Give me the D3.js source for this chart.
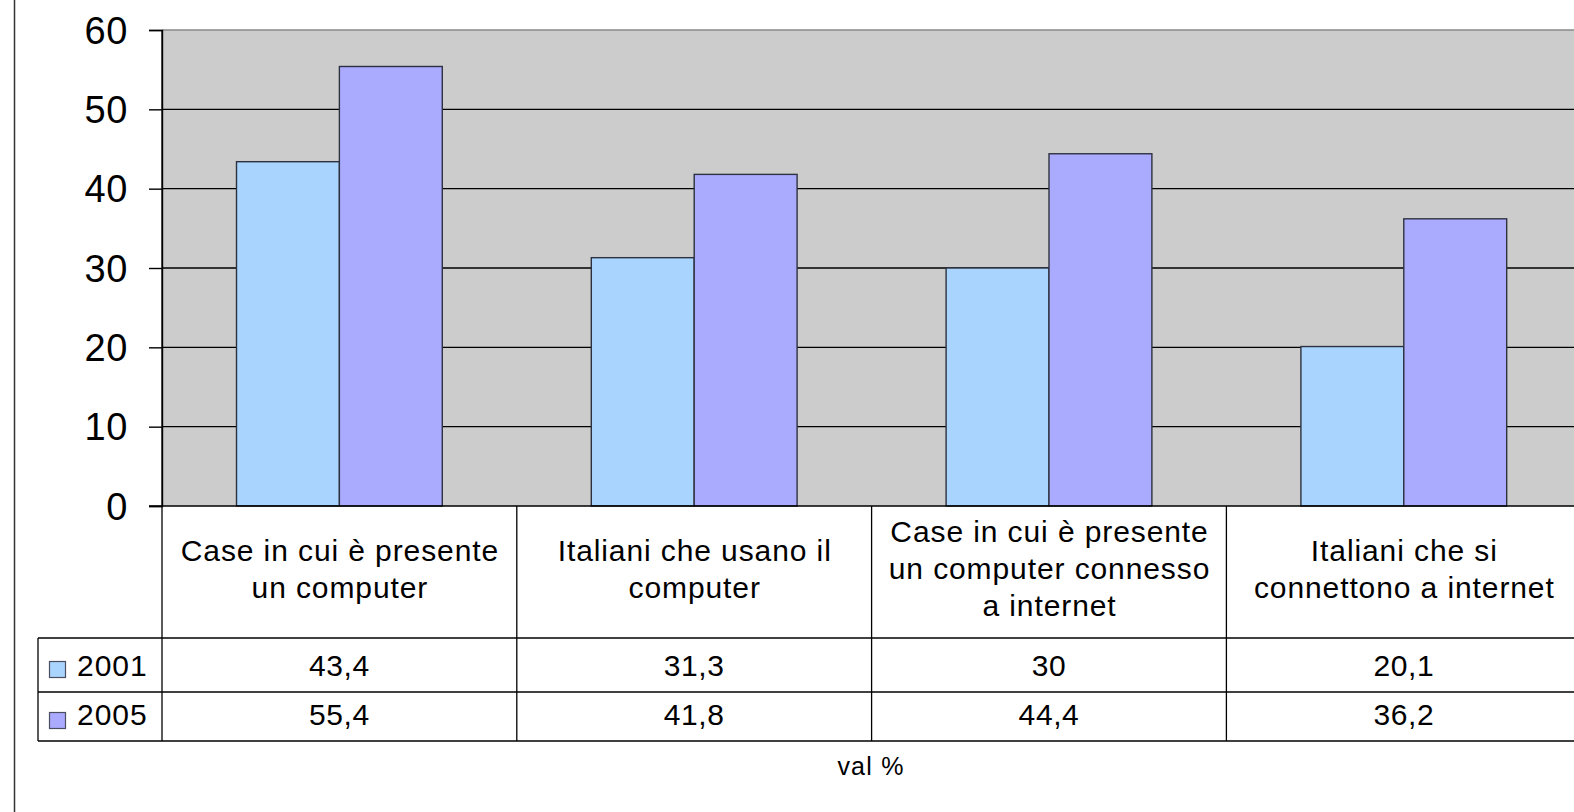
<!DOCTYPE html>
<html>
<head>
<meta charset="utf-8">
<script src="https://cdn.jsdelivr.net/npm/d3@7"></script>
<style>
  html, body { margin: 0; padding: 0; background: #ffffff; }
  svg { display: block; font-family: "Liberation Sans", Arial, sans-serif; }
</style>
</head>
<body>
<svg id="chart" width="1574" height="812"></svg>
<script>
// Category labels (line breaks as drawn in the table header)
const categories = [
  "Case in cui è presente\nun computer",
  "Italiani che usano il\ncomputer",
  "Case in cui è presente\nun computer connesso\na internet",
  "Italiani che si\nconnettono a internet"
];
const seriesNames = ["2001", "2005"];
const values2001 = [43.4, 31.3, 30, 20.1];
const values2005 = [55.4, 41.8, 44.4, 36.2];
const yTicks = [0, 10, 20, 30, 40, 50, 60];
const axisTitle = "val %";

const seriesValues = [values2001, values2005];
const colors = ["#a8d4fe", "#aaaaff"];
const fmt = v => String(v).replace(".", ",");

const svg = d3.select("#chart");

// Layout
const plotLeft = 162, plotTop = 30, plotBottom = 506;
const step = 354.8;
const rowCatBottom = 638, row1Bottom = 692, row2Bottom = 741;
const tableLeft = 38;

const x0 = d3.scaleBand()
  .domain(categories)
  .range([plotLeft, plotLeft + step * categories.length])
  .paddingInner(0).paddingOuter(0);
const x1 = d3.scaleBand()
  .domain(seriesNames)
  .range([step * 0.21, step * 0.79]);
const y = d3.scaleLinear().domain([0, 60]).range([plotBottom, plotTop]);

// Outer chart frame (left edge)
svg.append("line")
  .attr("x1", 14.5).attr("x2", 14.5).attr("y1", 0).attr("y2", 812)
  .attr("stroke", "#333").attr("stroke-width", 1.5);

// Plot background
svg.append("rect")
  .attr("x", plotLeft).attr("y", plotTop)
  .attr("width", 1574 - plotLeft).attr("height", plotBottom - plotTop)
  .attr("fill", "#cccccc");

// Grid lines
svg.append("g")
  .selectAll("line")
  .data(yTicks.filter(t => t > 0 && t < 60))
  .join("line")
  .attr("x1", plotLeft).attr("x2", 1574)
  .attr("y1", d => y(d)).attr("y2", d => y(d))
  .attr("stroke", "#000").attr("stroke-width", 1.4);

svg.append("line")
  .attr("x1", plotLeft).attr("x2", 1574)
  .attr("y1", y(60)).attr("y2", y(60))
  .attr("stroke", "#888").attr("stroke-width", 1.6);

// Bars
const groups = svg.append("g")
  .selectAll("g")
  .data(categories)
  .join("g")
  .attr("transform", d => `translate(${x0(d)},0)`);

groups.selectAll("rect")
  .data((d, i) => seriesNames.map((s, k) => ({ s, k, v: seriesValues[k][i] })))
  .join("rect")
  .attr("x", d => x1(d.s))
  .attr("y", d => y(d.v))
  .attr("width", x1.bandwidth())
  .attr("height", d => y(0) - y(d.v))
  .attr("fill", d => colors[d.k])
  .attr("stroke", "#2e3240")
  .attr("stroke-width", 1.4);

// Y axis
const yAxis = svg.append("g")
  .attr("transform", `translate(${plotLeft},0)`)
  .call(d3.axisLeft(y).tickValues(yTicks).tickSize(13).tickPadding(21).tickFormat(d3.format("d")));
yAxis.select(".domain").attr("stroke", "#000").attr("stroke-width", 1.4);
yAxis.selectAll(".tick line").attr("stroke", "#000").attr("stroke-width", 1.4);
yAxis.selectAll(".tick text")
  .attr("fill", "#000")
  .attr("font-size", 38)
  .attr("letter-spacing", 0.6)
  .attr("font-family", "Liberation Sans, Arial, sans-serif")
  .attr("dy", 13);

// Data table lines
const tbl = svg.append("g").attr("stroke", "#000").attr("stroke-width", 1.3);
tbl.append("line").attr("x1", 149).attr("x2", 1574).attr("y1", plotBottom).attr("y2", plotBottom);
[rowCatBottom, row1Bottom, row2Bottom].forEach(yy => {
  tbl.append("line").attr("x1", tableLeft).attr("x2", 1574).attr("y1", yy).attr("y2", yy);
});
tbl.append("line").attr("x1", tableLeft).attr("x2", tableLeft).attr("y1", rowCatBottom).attr("y2", row2Bottom);
tbl.append("line").attr("x1", plotLeft).attr("x2", plotLeft).attr("y1", plotTop).attr("y2", row2Bottom);
tbl.selectAll("line.div")
  .data(categories.slice(1))
  .join("line")
  .attr("class", "div")
  .attr("x1", d => x0(d)).attr("x2", d => x0(d))
  .attr("y1", plotBottom).attr("y2", row2Bottom);

// Category header text
const textStyle = (sel, spacing) => sel
  .attr("font-size", 30)
  .attr("letter-spacing", spacing)
  .attr("fill", "#000")
  .attr("text-anchor", "middle");

const catText = svg.append("g")
  .selectAll("text")
  .data(categories)
  .join("text")
  .call(textStyle, 0.9)
  .attr("x", d => x0(d) + step / 2);
catText.each(function (d) {
  const lines = d.split("\n");
  const n = lines.length;
  d3.select(this).selectAll("tspan")
    .data(lines)
    .join("tspan")
    .attr("x", x0(d) + step / 2 + 0.5)
    .attr("y", (l, i) => 579 + (i - (n - 1) / 2) * 37)
    .text(l => l);
});

// Value rows with legend keys
const rowBaselines = [676, 725];
const rowTops = [rowCatBottom, row1Bottom];
seriesNames.forEach((s, k) => {
  svg.append("rect")
    .attr("x", 49.5).attr("y", rowTops[k] + (k === 0 ? 23.5 : 20.5))
    .attr("width", 16).attr("height", 16)
    .attr("fill", colors[k])
    .attr("stroke", "#4a4e60").attr("stroke-width", 1.2);
  svg.append("text")
    .attr("x", 77).attr("y", rowBaselines[k])
    .attr("font-size", 30).attr("letter-spacing", 1).attr("fill", "#000")
    .text(s);
  svg.append("g")
    .selectAll("text")
    .data(categories)
    .join("text")
    .call(textStyle, 0.6)
    .attr("x", (d) => x0(d) + step / 2)
    .attr("y", rowBaselines[k])
    .text((d, i) => fmt(seriesValues[k][i]));
});

// Axis title under the table
svg.append("text")
  .attr("x", 871).attr("y", 775)
  .attr("font-size", 25).attr("letter-spacing", 1.2)
  .attr("fill", "#000").attr("text-anchor", "middle")
  .text(axisTitle);
</script>
</body>
</html>
